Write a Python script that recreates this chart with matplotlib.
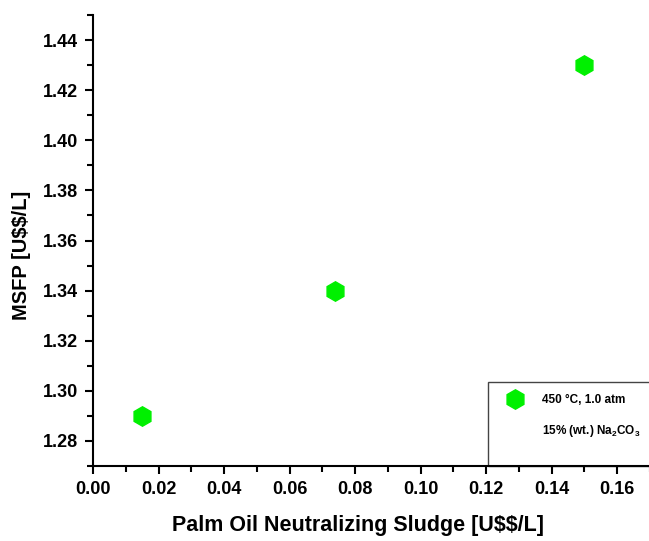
import matplotlib.pyplot as plt
from matplotlib.lines import Line2D
from matplotlib.patches import Rectangle
from matplotlib.ticker import MultipleLocator

plt.rcParams['font.family'] = ['Liberation Sans', 'DejaVu Sans']
plt.rcParams['font.weight'] = 'bold'
plt.rcParams['mathtext.default'] = 'bf'
plt.rcParams['mathtext.fontset'] = 'custom'
plt.rcParams['mathtext.bf'] = 'Liberation Sans:bold'
plt.rcParams['mathtext.rm'] = 'Liberation Sans:bold'

sludge_cost = [0.015, 0.074, 0.15]
msfp = [1.29, 1.34, 1.43]
series_label = '450 °C, 1.0 atm'
series_label2 = '15% (wt.) Na$_2$CO$_3$'
green = '#00f000'

fig = plt.figure(figsize=(6.49, 5.41), dpi=100)
ax = fig.add_axes([93/649, 75/541, 557/649, 451/541])
ax.plot(sludge_cost, msfp, linestyle='none', marker='h', markersize=14,
        color=green, markeredgecolor=green)

ax.set_xlim(0, 0.17)
ax.set_ylim(1.27, 1.45)
ax.xaxis.set_minor_locator(MultipleLocator(0.01))
ax.yaxis.set_minor_locator(MultipleLocator(0.01))
ax.set_xticks([0.0, 0.02, 0.04, 0.06, 0.08, 0.10, 0.12, 0.14, 0.16])
ax.set_xticklabels(['0.00', '0.02', '0.04', '0.06', '0.08', '0.10', '0.12', '0.14', '0.16'])
ax.set_yticks([1.28, 1.30, 1.32, 1.34, 1.36, 1.38, 1.40, 1.42, 1.44])
ax.set_yticklabels(['1.28', '1.30', '1.32', '1.34', '1.36', '1.38', '1.40', '1.42', '1.44'])
ax.tick_params(which='major', direction='out', length=6, width=1.5, labelsize=13, pad=5)
ax.tick_params(which='minor', direction='out', length=4, width=1.5)
for s in ['top', 'right']:
    ax.spines[s].set_visible(False)
for s in ['left', 'bottom']:
    ax.spines[s].set_linewidth(1.5)

ax.set_xlabel('Palm Oil Neutralizing Sludge [U\\$\\$/L]', fontsize=15.5, fontweight='bold',
              labelpad=12, x=265/557)
ax.set_ylabel('MSFP [U\\$\\$/L]', fontsize=14.5, fontweight='bold', labelpad=8, y=211/451)

# legend box (open to the right, sits on the x axis)
ax.add_patch(Rectangle((395/557, 0), 0.35, 84/451, transform=ax.transAxes,
                       fill=False, edgecolor='#444444', linewidth=1.0, clip_on=False))
handles = [Line2D([], [], linestyle='none', marker='h', markersize=14,
                  color=green),
           Line2D([], [], linestyle='none')]
leg = ax.legend(handles, [series_label, series_label2], loc='upper left',
                bbox_to_anchor=(410/557, 72/451), frameon=False,
                prop={'size': 8.5, 'weight': 'bold'}, borderpad=0,
                labelspacing=1.45, handlelength=2.0, handletextpad=1.3,
                borderaxespad=0)

fig.savefig('out.png', dpi=100)
